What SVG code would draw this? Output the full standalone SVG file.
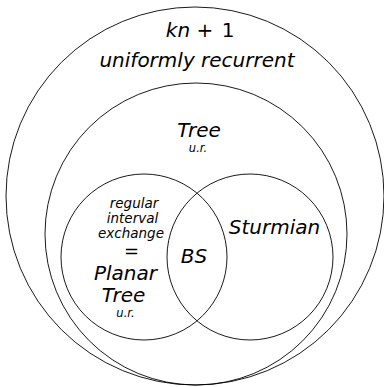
<svg xmlns="http://www.w3.org/2000/svg" width="384" height="387" viewBox="0 0 384 387">
  <style>
    .set { fill: none; stroke: #000; stroke-width: 0.9; }
    .lbl { font-family: "DejaVu Sans", "Liberation Sans", sans-serif; font-style: italic; fill: #000; text-anchor: middle; }
    .big { font-size: 20px; }
    .mid { font-size: 13.5px; }
    .tiny { font-size: 11.5px; }
    .up { font-style: normal; }
  </style>
  <rect width="384" height="387" fill="#fff"/>

  <!-- outermost set: kn+1, uniformly recurrent -->
  <g id="kn1">
    <circle class="set" cx="195" cy="196" r="189"/>
    <text class="lbl big" x="178" y="37">kn</text>
    <text class="lbl big up" x="205" y="37">+</text>
    <text class="lbl big up" x="228" y="37">1</text>
    <text class="lbl big" x="197" y="67">uniformly recurrent</text>
  </g>

  <!-- tree sets -->
  <g id="tree">
    <circle class="set" cx="196" cy="234" r="151"/>
    <text class="lbl big" x="199" y="137">Tree</text>
    <text class="lbl tiny" x="198" y="152">u.r.</text>
  </g>

  <!-- planar tree = regular interval exchange -->
  <g id="planar">
    <circle class="set" cx="144" cy="257" r="83"/>
    <text class="lbl mid" x="134" y="208">regular</text>
    <text class="lbl mid" x="132.5" y="223">interval</text>
    <text class="lbl mid" x="131" y="238">exchange</text>
    <text class="lbl up" x="131.5" y="257" font-size="18">=</text>
    <text class="lbl big" x="125.5" y="280">Planar</text>
    <text class="lbl big" x="123.5" y="302">Tree</text>
    <text class="lbl tiny" x="125.5" y="317">u.r.</text>
  </g>

  <!-- Sturmian set -->
  <g id="sturmian">
    <circle class="set" cx="250" cy="257" r="83"/>
    <text class="lbl big" x="274.5" y="234">Sturmian</text>
  </g>

  <!-- intersection label -->
  <g id="bs">
    <text class="lbl big" x="194" y="263">BS</text>
  </g>
</svg>
